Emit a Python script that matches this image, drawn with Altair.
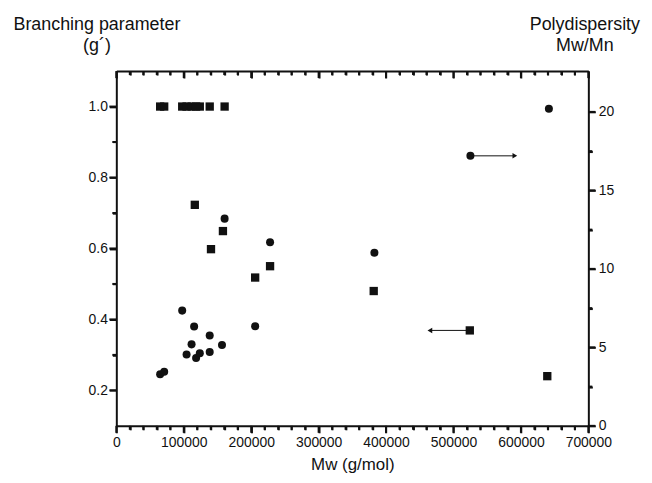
import altair as alt
import pandas as pd

# g' (left axis) - squares
sq_mw = [65000, 71000, 97700, 104200, 111600, 118300, 123800, 138500, 160600,
         116400, 158100, 140400, 228000, 205900, 381700, 524200, 639100]
sq_g = [1.0, 1.0, 1.0, 1.0, 1.0, 1.0, 1.0, 1.0, 1.0,
        0.723, 0.649, 0.598, 0.550, 0.518, 0.480, 0.369, 0.240]

# Mw/Mn (right axis) - circles
ci_mw = [65000, 71000, 97700, 104200, 111600, 115400, 118300, 123800, 138500,
         138500, 156700, 160600, 205900, 228000, 382700, 525100, 641500]
ci_p = [3.29, 3.44, 7.34, 4.54, 5.19, 6.33, 4.32, 4.62, 5.76,
        4.70, 5.15, 13.2, 6.35, 11.7, 11.03, 17.2, 20.2]

# arrows (start, end, level)
arrow_p = {"x1": [525100], "x2": [591000], "y": [17.2]}
arrow_g = {"x1": [524200], "x2": [465000], "y": [0.369]}

x_major = [0, 100000, 200000, 300000, 400000, 500000, 600000, 700000]
x_minor = [20000, 40000, 60000, 80000, 120000, 140000, 160000, 180000,
           220000, 240000, 260000, 280000, 320000, 340000, 360000, 380000,
           420000, 440000, 460000, 480000, 520000, 540000, 560000, 580000,
           620000, 640000, 660000, 680000]
g_major = [0.2, 0.4, 0.6, 0.8, 1.0]
g_minor = [0.3, 0.5, 0.7, 0.9]
p_major = [0, 5, 10, 15, 20]
p_minor = [2.5, 7.5, 12.5, 17.5]

W, H = 475, 357
MAJ, MIN = 7, 4
FONT = "Liberation Sans"
INK = "#111111"

xs = alt.Scale(domain=[0, 700000], nice=False, zero=False)
gs = alt.Scale(domain=[0.1, 1.1], nice=False, zero=False)
ps = alt.Scale(domain=[0, 22.6], nice=False, zero=False)

base_ax = dict(grid=False, ticks=True, domainColor=INK, tickColor=INK,
               domainWidth=2, tickWidth=2, tickOpacity=1,
               labelColor=INK, labelFont=FONT, labelFontSize=14,
               labelOverlap=False, labelFlush=False,
               titleColor=INK, titleFont=FONT, titleFontWeight="normal")


def ax(**kw):
    d = dict(base_ax)
    d.update(kw)
    return alt.Axis(**d)


minor_kw = dict(labels=False, domain=False, tickSize=MIN, title=None)

sq_df = pd.DataFrame({"mw": sq_mw, "g": sq_g})
ci_df = pd.DataFrame({"mw": ci_mw, "p": ci_p})

squares = alt.Chart(sq_df).mark_square(size=70, color=INK, opacity=1).encode(
    x=alt.X("mw:Q", scale=xs, axis=ax(orient="bottom", values=x_major, format="d",
                                      tickSize=MAJ, labelPadding=3,
                                      title="Mw (g/mol)", titleFontSize=17,
                                      titleY=44, titleBaseline="alphabetic")),
    y=alt.Y("g:Q", scale=gs, axis=ax(orient="left", values=g_major, format=".1f",
                                     tickSize=MAJ, labelPadding=2,
                                     title=["Branching parameter", "(g´)"],
                                     titleAngle=0, titleAlign="center",
                                     titleBaseline="alphabetic", titleX=-20,
                                     titleY=-42, titleFontSize=18,
                                     titleLineHeight=21)),
)

circles = alt.Chart(ci_df).mark_circle(size=65, color=INK, opacity=1).encode(
    x=alt.X("mw:Q", scale=xs, axis=ax(orient="bottom", values=x_minor, **minor_kw)),
    y=alt.Y("p:Q", scale=ps, axis=ax(orient="right", values=p_major, format="d",
                                     tickSize=MAJ, labelPadding=3,
                                     title=["Polydispersity", "Mw/Mn"],
                                     titleAngle=0, titleAlign="center",
                                     titleBaseline="alphabetic", titleX=-4,
                                     titleY=-42, titleFontSize=18,
                                     titleLineHeight=21)),
)

arr_p = alt.Chart(pd.DataFrame(arrow_p)).mark_rule(color=INK, strokeWidth=1).encode(
    x=alt.X("x1:Q", scale=xs, axis=ax(orient="bottom", offset=-H, values=x_major,
                                      labels=False, tickSize=MAJ, title=None)),
    x2="x2:Q",
    y=alt.Y("y:Q", scale=ps, axis=ax(orient="right", values=p_minor, **minor_kw)),
)

arr_g = alt.Chart(pd.DataFrame(arrow_g)).mark_rule(color=INK, strokeWidth=1).encode(
    x=alt.X("x1:Q", scale=xs, axis=ax(orient="bottom", offset=-H, values=x_minor,
                                      **minor_kw)),
    x2="x2:Q",
    y=alt.Y("y:Q", scale=gs, axis=ax(orient="left", values=g_minor, **minor_kw)),
)

head_p = alt.Chart(pd.DataFrame(arrow_p)).mark_point(
    shape="triangle-right", filled=True, size=30, color=INK, opacity=1).encode(
    x=alt.X("x2:Q", scale=xs, axis=None),
    y=alt.Y("y:Q", scale=ps, axis=None),
)

head_g = alt.Chart(pd.DataFrame(arrow_g)).mark_point(
    shape="triangle-left", filled=True, size=30, color=INK, opacity=1).encode(
    x=alt.X("x2:Q", scale=xs, axis=None),
    y=alt.Y("y:Q", scale=gs, axis=None),
)


# explicit tick marks along the frame, placed through the scales
def xticks(vals, y0, y1):
    return alt.Chart(pd.DataFrame({"v": vals})).mark_rule(
        color=INK, strokeWidth=2).encode(
        x=alt.X("v:Q", scale=xs, axis=None),
        y=alt.value(y0), y2=alt.value(y1))


def yticks(vals, scale, x0, x1):
    return alt.Chart(pd.DataFrame({"v": vals})).mark_rule(
        color=INK, strokeWidth=2).encode(
        y=alt.Y("v:Q", scale=scale, axis=None),
        x=alt.value(x0), x2=alt.value(x1))


tick_layers = [
    xticks(x_major, H, H + MAJ),
    xticks(x_minor, H, H + MIN),
    xticks(x_major, 0, MAJ),
    xticks(x_minor, 0, MIN),
    yticks(g_major, gs, 0, -MAJ),
    yticks(g_minor, gs, 0, -MIN),
    yticks(p_major, ps, W, W + MAJ),
    yticks(p_minor, ps, W, W + MIN),
]

chart = alt.layer(squares, circles, arr_p, arr_g, head_p, head_g,
                  *tick_layers).resolve_scale(
    y="independent"
).resolve_axis(
    x="independent", y="independent"
).properties(
    width=W, height=H,
    autosize=alt.AutoSizeParams(type="none"),
    padding={"left": 109, "top": 62, "right": 56, "bottom": 48},
    background="white",
).configure_view(strokeWidth=0)

chart.save("out.html", embed_options={"renderer": "svg", "actions": False})
